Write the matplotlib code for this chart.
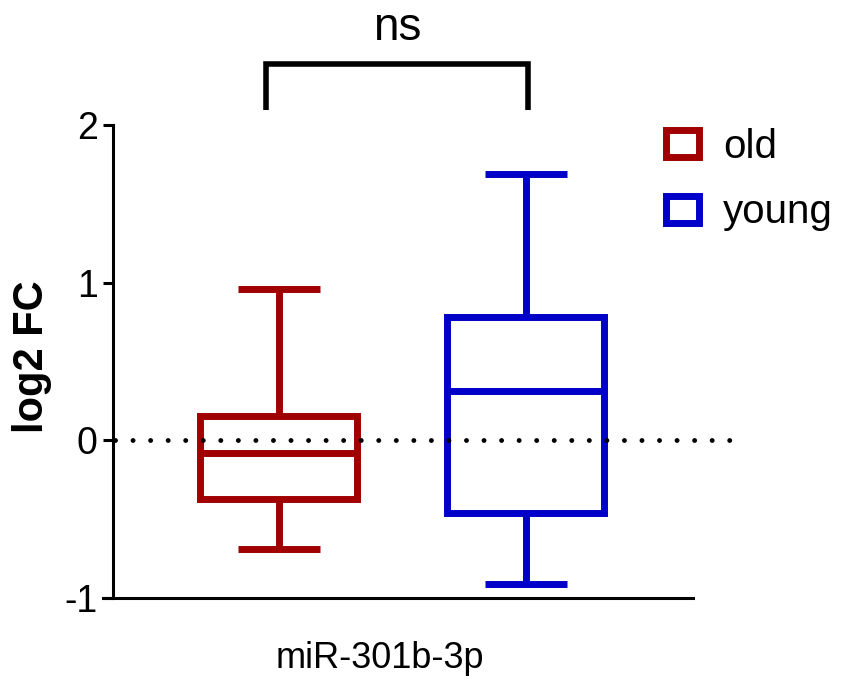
import matplotlib
matplotlib.use("Agg")
import matplotlib.pyplot as plt
from matplotlib.patches import Patch

plt.rcParams['font.family'] = ['Liberation Sans', 'DejaVu Sans']

# ---- data ----
groups = ["old", "young"]
colors = ["#A00000", "#0000C8"]
whisker_low = [-0.69, -0.91]
q1 = [-0.37, -0.46]
median = [-0.08, 0.31]
q3 = [0.155, 0.78]
whisker_high = [0.96, 1.69]
category = "miR-301b-3p"
yticks = [-1, 0, 1, 2]
significance = "ns"

positions = [0.2862, 0.712]

fig = plt.figure(figsize=(8.45, 6.81), dpi=100)
ax = fig.add_axes([113/845, 83/681, 580/845, 473/681])

stats = []
for i, g in enumerate(groups):
    stats.append(dict(label=g, whislo=whisker_low[i], q1=q1[i], med=median[i],
                      q3=q3[i], whishi=whisker_high[i], fliers=[]))

for i in range(2):
    c = colors[i]
    ax.bxp([stats[i]], positions=[positions[i]], widths=0.2707, capwidths=[0.141],
           patch_artist=True, showfliers=False, manage_ticks=False,
           boxprops=dict(facecolor='white', edgecolor=c, linewidth=5, joinstyle='miter'),
           medianprops=dict(color=c, linewidth=5, solid_capstyle='butt'),
           whiskerprops=dict(color=c, linewidth=5, solid_capstyle='butt'),
           capprops=dict(color=c, linewidth=5, solid_capstyle='butt'))

# dotted zero line
ax.plot([0.003, 1.082], [0, 0], color='black', linestyle=(0, (0.01, 3.6)),
        linewidth=3.5, dash_capstyle='round', clip_on=False, zorder=3)

ax.set_xlim(0, 1)
ax.set_ylim(-1, 2)
ax.set_yticks(yticks)
ax.set_yticklabels([str(t) for t in yticks])
ax.set_xticks([0.46])
ax.set_xticklabels([category], fontsize=26)
ax.tick_params(axis='x', length=0, pad=31)
ax.tick_params(axis='y', length=7, width=2.2, labelsize=27, pad=4)

for s in ['top', 'right']:
    ax.spines[s].set_visible(False)
for s in ['left', 'bottom']:
    ax.spines[s].set_linewidth(2.2)
ax.spines['bottom'].set_bounds(-0.017, 1)

ax.set_ylabel("log2 FC", fontsize=30, fontweight='bold')
ax.yaxis.set_label_coords(-0.105, 0.51)

# significance bracket
bx0, bx1 = 0.264, 0.716
ytop, ybot = 2.384, 2.093
ax.plot([bx0, bx0, bx1, bx1], [ybot, ytop, ytop, ybot], color='black',
        linewidth=4, clip_on=False, solid_joinstyle='miter', solid_capstyle='butt')
ax.text((bx0 + bx1) / 2, 2.536, significance, ha='center', va='baseline',
        fontsize=33, clip_on=False)

handles = [Patch(facecolor='white', edgecolor=colors[i], linewidth=5, label=groups[i])
           for i in range(2)]
leg = ax.legend(handles=handles, loc='upper left', bbox_to_anchor=(666/845, 1 - 128/681),
                bbox_transform=fig.transFigure, frameon=False, fontsize=29,
                handlelength=0.82, handleheight=0.65, handletextpad=0.6,
                labelspacing=0.68, borderpad=0, borderaxespad=0)

fig.savefig("out.png", dpi=100)
